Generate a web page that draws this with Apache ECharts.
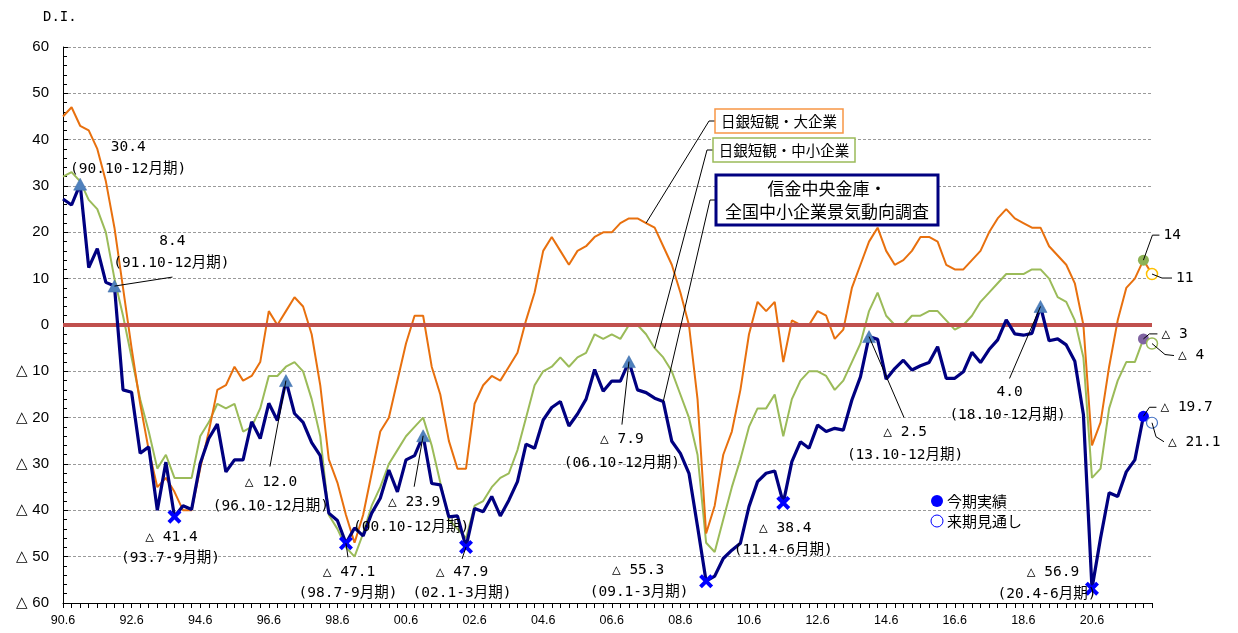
<!DOCTYPE html>
<html>
<head>
<meta charset="utf-8">
<script src="https://cdn.jsdelivr.net/npm/echarts@6/dist/echarts.min.js"></script>
<style>
  html, body { margin: 0; padding: 0; background: #fff; }
  #chart { width: 1238px; height: 633px; }
</style>
</head>
<body>
<div id="chart"></div>
<script>
// Quarterly survey D.I., 1990 Apr-Jun (90.6) through 2022 Jan-Mar (22.3)
const quarterMonths = [6, 9, 12, 3];
const categories = [];
for (let i = 0; i < 128; i++) {
  const month = quarterMonths[i % 4];
  const year = 1990 + Math.floor(i / 4) + (month === 3 ? 1 : 0);
  categories.push(String(year % 100).padStart(2, '0') + '.' + month);
}

// 信金中央金庫・全国中小企業景気動向調査 (actual, 90.6 - 21.12)
const shinkin = [
  27.2, 25.9, 30.4, 12.4, 16.5, 9.2, 8.4, -14.0, -14.5, -27.7,
  -26.3, -40.0, -29.6, -41.4, -39.0, -39.8, -29.9, -24.5, -21.4, -31.7,
  -29.1, -29.1, -20.9, -24.5, -16.9, -20.6, -12.0, -19.1, -21.0, -25.4,
  -28.2, -40.6, -42.2, -47.1, -43.8, -45.5, -40.6, -37.4, -31.3, -36.0,
  -29.1, -28.2, -23.9, -34.2, -34.5, -41.4, -41.2, -47.9, -39.6, -40.3,
  -37.0, -41.2, -37.8, -33.8, -25.7, -26.6, -20.5, -17.8, -16.5, -21.8,
  -19.2, -16.0, -9.6, -14.3, -12.1, -12.1, -7.9, -14.0, -14.6, -15.8,
  -16.5, -25.1, -27.7, -32.0, -43.5, -55.3, -54.2, -50.4, -48.6, -47.1,
  -39.2, -33.8, -32.0, -31.5, -38.4, -29.5, -25.2, -26.6, -21.6, -23.0,
  -22.3, -22.7, -16.2, -11.2, -2.5, -3.1, -11.7, -9.4, -7.6, -9.7,
  -8.8, -8.1, -4.7, -11.5, -11.5, -10.1, -5.9, -8.1, -5.3, -3.2,
  1.1, -1.9, -2.2, -1.8, 4.0, -3.4, -3.0, -4.3, -7.8, -19.3,
  -56.9, -46.0, -36.2, -37.0, -31.7, -29.1, -19.7
];
const shinkinForecast = -21.1;

// 日銀短観・大企業 (actual, 90.6 - 21.12)
const tankanLarge = [
  45, 47, 43, 42, 38, 31, 21, 8, -5, -17,
  -27, -35, -33, -36, -40, -40, -31, -23, -14, -13,
  -9, -12, -11, -8, 3, 0, 3, 6, 4, -2,
  -13, -29, -34, -41, -47, -41, -32, -23, -20, -12,
  -4, 2, 2, -9, -15, -25, -31, -31, -17, -13,
  -11, -12, -9, -6, 1, 7, 16, 19, 16, 13,
  16, 17, 19, 20, 20, 22, 23, 23, 22, 21,
  17, 13, 7, 0, -16, -45, -39, -28, -23, -14,
  -2, 5, 3, 5, -8, 1, 0, 0, 3, 2,
  -3, -1, 8, 13, 18, 21, 16, 13, 14, 16,
  19, 19, 18, 13, 12, 12, 14, 16, 20, 23,
  25, 23, 22, 21, 21, 17, 15, 13, 9, 0,
  -26, -21, -9, 1, 8, 10, 14
];
const tankanLargeForecast = 11;

// 日銀短観・中小企業 (actual, 90.6 - 21.12)
const tankanSmall = [
  32, 33, 31, 27, 25, 20, 10, 2, -7, -16,
  -23, -31, -28, -33, -33, -33, -24, -21, -17, -18,
  -17, -23, -22, -18, -11, -11, -9, -8, -10, -16,
  -24, -41, -44, -48, -50, -45, -39, -35, -30, -27,
  -24, -22, -20, -26, -34, -42, -44, -46, -39, -38,
  -35, -33, -32, -27, -20, -13, -10, -9, -7, -9,
  -7, -6, -2, -3, -2, -3, 0, 0, -2, -5,
  -7, -10, -15, -20, -28, -47, -49, -42, -35, -29,
  -22, -18, -18, -15, -24, -16, -12, -10, -10, -11,
  -14, -12, -8, -4, 3, 7, 2, 0, 0, 2,
  2, 3, 3, 1, -1, 0, 2, 5, 7, 9,
  11, 11, 11, 12, 12, 10, 6, 5, 1, -7,
  -33, -31, -18, -12, -8, -8, -3
];
const tankanSmallForecast = -4;

// Turning points of the 信金 series and their periods
const peakIdx = [2, 6, 26, 42, 66, 94, 114];
const peakPeriods = ['(90.10-12月期)', '(91.10-12月期)', '(96.10-12月期)', '(00.10-12月期)',
                     '(06.10-12月期)', '(13.10-12月期)', '(18.10-12月期)'];
const troughIdx = [13, 33, 47, 75, 84, 120];
const troughPeriods = ['(93.7-9月期)', '(98.7-9月期)', '(02.1-3月期)', '(09.1-3月期)',
                       '(11.4-6月期)', '(20.4-6月期)'];

const yTicks = [-60, -50, -40, -30, -20, -10, 0, 10, 20, 30, 40, 50, 60];

// Placement of the callouts around each turning point (pixel offsets):
// [value dx, value dy, period dx, period dy, leader end or null]
const calloutPlacement = {
  2: [48, -37, 48, -15, null],
  6: [58, -45, 57, -23, [58, -9]],
  13: [-3, 20, -4, 41, null],
  26: [-15, 102, -15, 126, [-16, 86]],
  33: [3, 29, 2, 50, [2, 14]],
  42: [-9, 66, -12, 91, [-9, 51]],
  47: [-4, 25, -4, 46, [-4, 12]],
  66: [-7, 78, -7, 102, [-7, 63]],
  75: [-68, -11, -67, 11, null],
  84: [2, 25, 0, 47, null],
  94: [36, 96, 36, 119, [35, 81]],
  114: [-31, 86, -33, 109, [-31, 72]],
  120: [-39, -16, -45, 6, null]
};

const NAVY = '#000080', ORANGE = '#E8700E', GREEN = '#9BBB59', ZERO_RED = '#C0504D';
const MONO = '"DejaVu Sans Mono", "Noto Sans CJK JP", monospace';
const CJK = '"Noto Sans CJK JP", sans-serif';

function fmtDI(v, digits) {
  const s = Math.abs(v).toFixed(digits);
  return v < 0 ? '△ ' + s : s;
}

const lastIdx = shinkin.length - 1;
const CROSS = 'path://M2,0 L5,3 L8,0 L10,2 L7,5 L10,8 L8,10 L5,7 L2,10 L0,8 L3,5 L0,2 Z';

const chart = echarts.init(document.getElementById('chart'), null, { renderer: 'canvas' });

chart.setOption({
  animation: false,
  backgroundColor: '#fff',
  grid: { left: 63, right: 86, top: 47, bottom: 30, containLabel: false },
  xAxis: {
    type: 'category',
    data: categories,
    boundaryGap: false,
    axisLine: { onZero: false, lineStyle: { color: '#000', width: 1 } },
    axisTick: { show: true, interval: 0, length: 5, lineStyle: { color: '#000' } },
    axisLabel: {
      interval: (idx) => idx % 8 === 0,
      color: '#000', fontSize: 12.5, fontFamily: '"Liberation Sans", Arial, sans-serif', margin: 11
    },
    splitLine: { show: false }
  },
  yAxis: {
    type: 'value',
    min: yTicks[0], max: yTicks[yTicks.length - 1], interval: 10,
    axisLine: { show: true, lineStyle: { color: '#000', width: 1 } },
    axisTick: { show: true, inside: true, length: 5, lineStyle: { color: '#000' } },
    minorTick: { show: true, splitNumber: 5, length: 4, lineStyle: { color: '#000' } },
    axisLabel: {
      formatter: (v) => v < 0 ? '△ ' + (-v) : String(v),
      color: '#000', fontSize: 15, fontFamily: '"Liberation Sans", Arial, sans-serif', margin: 14
    },
    splitLine: { show: true, lineStyle: { color: '#9a9a9a', width: 1, type: [3, 2] } }
  },
  series: [
    {
      name: 'zero', type: 'line', data: [], z: 2, silent: true,
      markLine: {
        silent: true, symbol: ['none', 'none'], label: { show: false },
        lineStyle: { color: ZERO_RED, width: 4, type: 'solid' },
        data: [{ yAxis: 0 }]
      }
    },
    {
      name: '日銀短観・中小企業', type: 'line', z: 3, symbol: 'none',
      data: tankanSmall.concat([tankanSmallForecast]),
      lineStyle: { color: GREEN, width: 2 }
    },
    {
      name: '日銀短観・大企業', type: 'line', z: 4, symbol: 'none',
      data: tankanLarge.concat([tankanLargeForecast]),
      lineStyle: { color: ORANGE, width: 2 }
    },
    {
      name: '信金中央金庫・全国中小企業景気動向調査', type: 'line', z: 5, symbol: 'none',
      data: shinkin,
      lineStyle: { color: NAVY, width: 3.2 }
    },
    {
      name: 'peaks', type: 'scatter', z: 6, symbol: 'triangle', symbolSize: [13, 12],
      itemStyle: { color: '#4F81BD', borderColor: '#3B6AA8', borderWidth: 0.5, opacity: 1 },
      data: peakIdx.map((i) => [i, shinkin[i]])
    },
    {
      name: 'troughs', type: 'scatter', z: 6, symbol: CROSS, symbolSize: 14,
      itemStyle: { color: '#0000FF', opacity: 1 },
      data: troughIdx.map((i) => [i, shinkin[i]])
    },
    {
      name: 'latest', type: 'scatter', z: 7, symbolSize: 11,
      itemStyle: { opacity: 1 },
      data: [
        { value: [lastIdx, shinkin[lastIdx]], symbol: 'circle', itemStyle: { color: '#0000FF', opacity: 1 } },
        { value: [lastIdx + 1, shinkinForecast], symbol: 'circle',
          itemStyle: { color: '#fff', borderColor: '#4472C4', borderWidth: 1.2, opacity: 1 } },
        { value: [lastIdx, tankanLarge[lastIdx]], symbol: 'circle', itemStyle: { color: '#8DB255', opacity: 1 } },
        { value: [lastIdx + 1, tankanLargeForecast], symbol: 'circle',
          itemStyle: { color: '#fff', borderColor: '#FFC000', borderWidth: 1.5, opacity: 1 } },
        { value: [lastIdx, tankanSmall[lastIdx]], symbol: 'circle', itemStyle: { color: '#8064A2', opacity: 1 } },
        { value: [lastIdx + 1, tankanSmallForecast], symbol: 'circle',
          itemStyle: { color: '#fff', borderColor: GREEN, borderWidth: 1.5, opacity: 1 } }
      ]
    }
  ]
});

// ---- callouts, leader lines and boxed series names ----
const px = (i, v) => chart.convertToPixel({ xAxisIndex: 0, yAxisIndex: 0 }, [i, v]);
const g = [];

function text(x, y, str, font, align) {
  g.push({ type: 'text', x: x, y: y, z: 100,
    style: { text: str, font: font, fill: '#000', align: align || 'center', verticalAlign: 'middle' } });
}
function leader(points, width) {
  g.push({ type: 'polyline', z: 99, shape: { points: points },
    style: { stroke: '#000', lineWidth: width || 1, fill: null } });
}

const calloutFont = '14.5px ' + MONO;
function callout(i, period) {
  const p = px(i, shinkin[i]);
  const c = calloutPlacement[i];
  text(p[0] + c[0], p[1] + c[1], fmtDI(shinkin[i], 1), calloutFont);
  text(p[0] + c[2], p[1] + c[3], period, calloutFont);
  if (c[4]) leader([[p[0], p[1]], [p[0] + c[4][0], p[1] + c[4][1]]]);
}
peakIdx.forEach((i, k) => callout(i, peakPeriods[k]));
troughIdx.forEach((i, k) => callout(i, troughPeriods[k]));

// Labels for the latest actual / forecast points
const endFont = '14.5px ' + MONO;
function endLabel(i, v, route, str) {
  const p = px(i, v);
  const pts = [[p[0], p[1]]].concat(route.map((d) => [p[0] + d[0], p[1] + d[1]]));
  leader(pts);
  const last = pts[pts.length - 1];
  text(last[0] + 4, last[1], str, endFont, 'left');
}
endLabel(lastIdx, tankanLarge[lastIdx], [[9, -25], [16, -25]], fmtDI(tankanLarge[lastIdx], 0));
endLabel(lastIdx + 1, tankanLargeForecast, [[10, 4], [20, 4]], fmtDI(tankanLargeForecast, 0));
endLabel(lastIdx, tankanSmall[lastIdx], [[6, -5], [14, -5]], fmtDI(tankanSmall[lastIdx], 0));
endLabel(lastIdx + 1, tankanSmallForecast, [[13, 11], [22, 12]], fmtDI(tankanSmallForecast, 0));
endLabel(lastIdx, shinkin[lastIdx], [[6, -9], [13, -9]], fmtDI(shinkin[lastIdx], 1));
endLabel(lastIdx + 1, shinkinForecast, [[4, 14], [12, 19]], fmtDI(shinkinForecast, 1));

// Boxed series names with leader lines to their curves
function nameBox(x, y, w, h, color, lw, lines, fontSize, anchorIdx, anchorVal) {
  const a = px(anchorIdx, anchorVal);
  const ly = y + h / 2;
  leader([[x, ly], [x - 6, ly], [a[0], a[1]]]);
  g.push({ type: 'rect', z: 101, shape: { x: x, y: y, width: w, height: h },
    style: { fill: '#fff', stroke: color, lineWidth: lw } });
  const lh = fontSize * 1.4;
  lines.forEach((s, k) => {
    g.push({ type: 'text', z: 102, x: x + w / 2, y: ly + (k - (lines.length - 1) / 2) * lh,
      style: { text: s, font: fontSize + 'px ' + CJK, fill: '#000', align: 'center', verticalAlign: 'middle' } });
  });
}
nameBox(715, 109, 128, 24, '#F79646', 1.5, ['日銀短観・大企業'], 14.5, 68, tankanLarge[68]);
nameBox(713, 138, 142, 24, GREEN, 1.5, ['日銀短観・中小企業'], 14.5, 69, tankanSmall[69]);
nameBox(716, 175, 222, 50, NAVY, 3, ['信金中央金庫・', '全国中小企業景気動向調査'], 17, 70, shinkin[70]);

// Marker legend
g.push({ type: 'circle', z: 100, shape: { cx: 937, cy: 501, r: 6 }, style: { fill: '#0000FF' } });
g.push({ type: 'circle', z: 100, shape: { cx: 937, cy: 521, r: 6 },
  style: { fill: '#fff', stroke: '#0000FF', lineWidth: 1 } });
text(947, 501, '今期実績', '15px ' + CJK, 'left');
text(947, 521, '来期見通し', '15px ' + CJK, 'left');

// Axis unit
text(43, 17, 'D.I.', '14px ' + MONO, 'left');

chart.setOption({ graphic: { elements: g } });
</script>
</body>
</html>
